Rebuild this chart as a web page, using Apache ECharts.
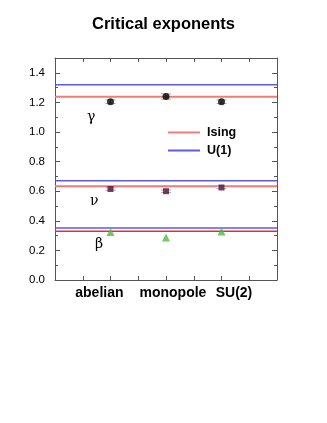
<!DOCTYPE html>
<html><head><meta charset="utf-8">
<script src="https://cdn.jsdelivr.net/npm/echarts@6/dist/echarts.min.js"></script>
<style>html,body{margin:0;padding:0;background:#fff}#c{width:327px;height:423px}</style>
</head><body><div id="c"></div>
<script>
var categories = ['abelian', 'monopole', 'SU(2)'];
var categoryX = [2, 4, 6];
var labelX = [1.6, 4.25, 6.45];
var gammaVals = [1.205, 1.24, 1.205];
var gammaErr = [0.012, 0.018, 0.012];
var nuVals = [0.615, 0.60, 0.625];
var nuErr = [0.008, 0.008, 0.008];
var betaVals = [0.324, 0.288, 0.328];
var isingVals = [1.239, 0.633, 0.329];
var u1Vals = [1.32, 0.671, 0.351];
var yTicks = [0, 0.2, 0.4, 0.6, 0.8, 1.0, 1.2, 1.4];

var chart = echarts.init(document.getElementById('c'));
function pts(vals){ return vals.map(function(v,i){ return [categoryX[i], v]; }); }
function errData(vals, errs){ return vals.map(function(v,i){ return [categoryX[i], v-errs[i], v+errs[i]]; }); }
function hline(name, v, color, width){
  return {type:'line', name: name, xAxisIndex:0, yAxisIndex:0, data:[[0,v],[8,v]], symbol:'none',
    lineStyle:{color:color, width:width}, itemStyle:{color:color}, silent:true, z:1};
}
function errSeries(vals, errs){
  return {type:'custom', xAxisIndex:0, yAxisIndex:0, data: errData(vals, errs), z:3, silent:true,
    renderItem:function(params, api){
      var x = api.value(0);
      var lo = api.coord([x, api.value(1)]);
      var hi = api.coord([x, api.value(2)]);
      var s = {stroke:'#aaa', lineWidth:1};
      return {type:'group', children:[
        {type:'line', shape:{x1:lo[0], y1:lo[1], x2:hi[0], y2:hi[1]}, style:s},
        {type:'line', shape:{x1:lo[0]-5, y1:lo[1], x2:lo[0]+5, y2:lo[1]}, style:s},
        {type:'line', shape:{x1:hi[0]-5, y1:hi[1], x2:hi[0]+5, y2:hi[1]}, style:s}
      ]};
    }};
}
var series = [];
series.push(hline('Ising', isingVals[0], '#f07a7a', 2));
series.push(hline('Ising', isingVals[1], '#f07a7a', 2));
series.push(hline('Ising', isingVals[2], '#e03030', 1.5));
series.push(hline('U(1)', u1Vals[0], '#5a5af0', 1.5));
series.push(hline('U(1)', u1Vals[1], '#5a5af0', 1.5));
series.push(hline('U(1)', u1Vals[2], '#5a5af0', 1.5));
series.push(errSeries(gammaVals, gammaErr));
series.push(errSeries(nuVals, nuErr));
series.push({type:'scatter', data:pts(gammaVals), symbol:'circle', symbolSize:7, itemStyle:{color:'#000'}, z:4});
series.push({type:'scatter', data:pts(nuVals), symbol:'rect', symbolSize:6, itemStyle:{color:'#5a1040'}, z:4});
series.push({type:'scatter', data:pts(betaVals), symbol:'triangle', symbolSize:8, itemStyle:{color:'#4cbb3c'}, z:4});

var axisLine = {show:true, onZero:false, lineStyle:{color:'#555', width:1}};
var tick = {inside:true, length:4, lineStyle:{color:'#555'}};
var minor = {show:true, splitNumber:2, length:3, lineStyle:{color:'#555'}};
chart.setOption({
  animation:false,
  title:{text:'Critical exponents', left:'center', top:11,
    textStyle:{fontFamily:'Liberation Sans', fontWeight:'bold', fontSize:16.5, color:'#000'}},
  legend:{left:163, top:121, orient:'vertical', itemWidth:32, itemHeight:2, itemGap:5,
    data:[{name:'Ising', icon:'rect'},{name:'U(1)', icon:'rect'}],
    textStyle:{fontFamily:'Liberation Sans', fontWeight:'bold', fontSize:12.5, color:'#000', padding:[0,0,0,2]}},
  grid:{left:55, right:50, top:58, bottom:143},
  xAxis:[
    {type:'value', min:0, max:8, interval:1, position:'bottom', axisLine:axisLine,
     axisTick:tick, splitLine:{show:false}, axisLabel:{show:false}},
    {type:'value', min:0, max:8, interval:1, position:'top', axisLine:axisLine,
     axisTick:tick, splitLine:{show:false}, axisLabel:{show:false}}
  ],
  yAxis:[
    {type:'value', min:0, max:1.5, interval:0.2, position:'left', axisLine:axisLine,
     axisTick:{inside:true, length:5, lineStyle:{color:'#555'}}, minorTick:minor,
     splitLine:{show:false},
     axisLabel:{fontFamily:'Liberation Sans', fontSize:11.5, color:'#000', margin:10,
       formatter:function(v){ return yTicks.some(function(t){return Math.abs(t-v)<1e-9;}) ? v.toFixed(1) : ''; }}},
    {type:'value', min:0, max:1.5, interval:0.2, position:'right', axisLine:axisLine,
     axisTick:{inside:true, length:5, lineStyle:{color:'#555'}}, minorTick:minor,
     splitLine:{show:false}, axisLabel:{show:false}}
  ],
  series:series
});
var g = [
  {type:'text', left:87, top:110, style:{text:'γ', font:'14px "DejaVu Serif"', fill:'#000'}},
  {type:'text', left:90, top:194, style:{text:'ν', font:'14px "DejaVu Serif"', fill:'#000'}},
  {type:'text', left:95, top:237, style:{text:'β', font:'14px "DejaVu Serif"', fill:'#000'}}
];
categories.forEach(function(c, i){
  var p = chart.convertToPixel({xAxisIndex:0, yAxisIndex:0}, [labelX[i], 0]);
  g.push({type:'text', x:p[0], y:p[1] + 13, style:{text:c, font:'bold 14px "Liberation Sans"', fill:'#000', textAlign:'center', textVerticalAlign:'middle'}});
});
chart.setOption({graphic:g});
</script></body></html>
